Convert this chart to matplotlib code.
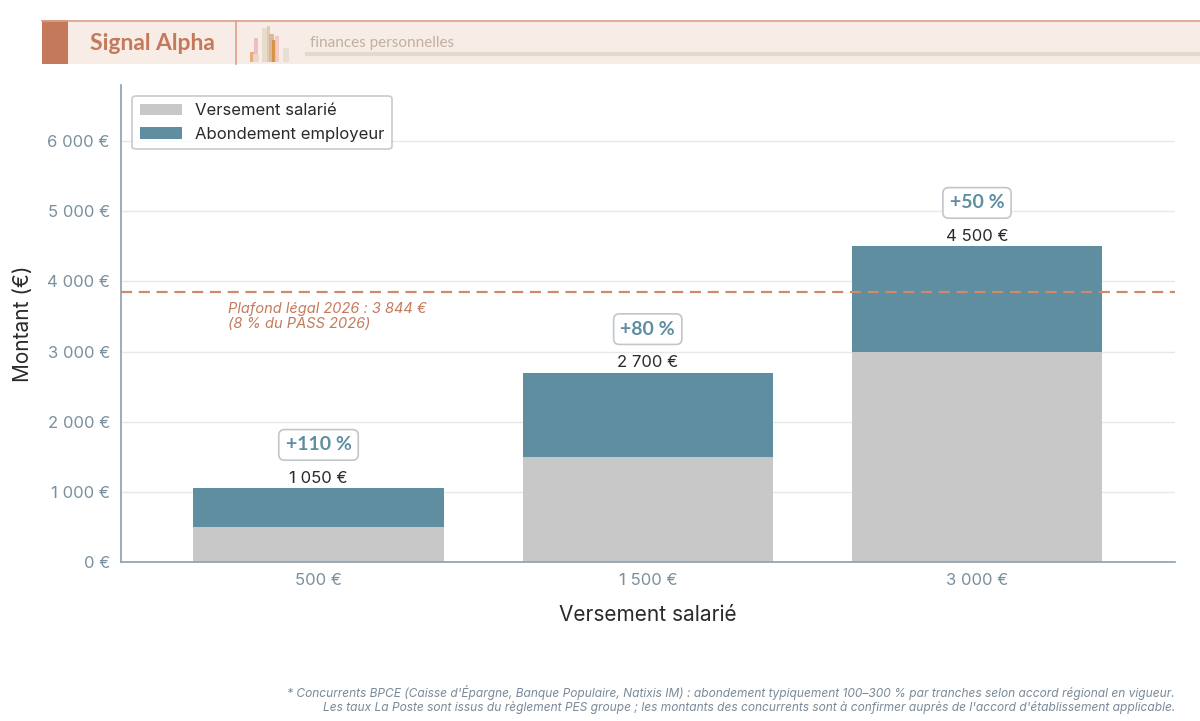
import matplotlib.pyplot as plt
import numpy as np
from matplotlib.patches import Rectangle

plt.rcParams['font.family'] = ['Inter', 'DejaVu Sans']

categories = ['500 €', '1 500 €', '3 000 €']
salarie = np.array([500, 1500, 3000])
abondement = np.array([550, 1200, 1500])
pct_labels = ['+110 %', '+80 %', '+50 %']
plafond = 3844

c_sal = '#c8c8c8'
c_abd = '#5e8ea0'
c_accent = '#c47a5a'
c_tick = '#7a909e'


def fmt(v):
    return '{:,.0f}'.format(v).replace(',', ' ') + ' €'


fig = plt.figure(figsize=(12, 7.21), dpi=100)
ax = fig.add_axes([0.1008, 0.2205, 0.878, 0.6615])

x = np.arange(len(categories))
w = 0.76
ax.bar(x, salarie, w, color=c_sal, label='Versement salarié', zorder=2)
ax.bar(x, abondement, w, bottom=salarie, color=c_abd, label='Abondement employeur', zorder=2)

tot = salarie + abondement
for i in range(len(x)):
    ax.text(x[i], tot[i] + 40, fmt(tot[i]), ha='center', va='bottom', fontsize=12, color='#2a2a2a')
    ax.text(x[i], tot[i] + 620, pct_labels[i], ha='center', va='center', fontsize=14,
            fontweight='bold', family=['Lato', 'DejaVu Sans'], color=c_abd,
            bbox=dict(boxstyle='round,pad=0.35,rounding_size=0.3', fc='white', ec='#c0c6cc', lw=1.2))

ax.axhline(plafond, color='#d08a6a', ls=(0, (5, 3)), lw=1.6, zorder=3)
ax.text(-0.276, plafond - 130, 'Plafond légal 2026 : 3 844 €\n(8 % du PASS 2026)', ha='left', va='top',
        fontsize=10.5, style='italic', color=c_accent, linespacing=1.1)

ax.set_xlim(-0.6, 2.6)
ax.set_ylim(0, 6800)
ax.set_yticks(np.arange(0, 7000, 1000))
ax.set_yticklabels([fmt(v) for v in np.arange(0, 7000, 1000)])
ax.set_xticks(x)
ax.set_xticklabels(categories)
ax.tick_params(colors=c_tick, labelsize=12, length=0, pad=8)
ax.yaxis.grid(True, color='#e8e8e8', lw=1, zorder=0)
for s in ['top', 'right']:
    ax.spines[s].set_visible(False)
for s in ['left', 'bottom']:
    ax.spines[s].set_color('#8aa0b0')
    ax.spines[s].set_linewidth(1.2)
ax.set_ylabel('Montant (€)', fontsize=15, color='#2a2a2a', labelpad=10)
ax.set_xlabel('Versement salarié', fontsize=15, color='#2a2a2a', labelpad=12)

leg = ax.legend(loc='upper left', fontsize=12, frameon=True, fancybox=True,
                edgecolor='#b8bec4', borderpad=0.45, handlelength=2.5, handletextpad=0.8,
                bbox_to_anchor=(0.003, 0.995))
leg.get_frame().set_linewidth(1.2)
for t in leg.get_texts():
    t.set_color('#2a2a2a')

# header band
H = 721.0


def fy(py):
    return 1 - py / H


fig.patches.append(Rectangle((42 / 1200, fy(64)), 1 - 42 / 1200, 44 / H, transform=fig.transFigure,
                             fc='#f7ece6', ec='none', zorder=0))
fig.patches.append(Rectangle((42 / 1200, fy(64)), 26 / 1200, 44 / H, transform=fig.transFigure,
                             fc=c_accent, ec='none', zorder=1))
fig.add_artist(plt.Line2D([42 / 1200, 1], [fy(21), fy(21)], color='#dda08a', lw=1.2, transform=fig.transFigure))
fig.add_artist(plt.Line2D([236 / 1200, 236 / 1200], [fy(21), fy(64)], color='#dda08a', lw=1.2,
                          transform=fig.transFigure))
fig.add_artist(plt.Line2D([307 / 1200, 1], [fy(54), fy(54)], color='#e6d8cc', lw=3,
                          transform=fig.transFigure))
fig.text(90 / 1200, fy(43), 'Signal Alpha', fontsize=16.5, fontweight='bold', color=c_accent,
         family=['Lato', 'DejaVu Sans'], va='center', ha='left')
fig.text(310 / 1200, fy(43), 'finances personnelles', fontsize=11, color='#c2b0a0',
         family=['Lato', 'DejaVu Sans'], va='center', ha='left')
icon = [(250, 52, 5, 10, '#e8a070'), (254, 38, 4, 24, '#ecb8b8'), (262, 28, 6, 34, '#e6d8c4'),
        (267, 26, 3, 36, '#dcc8b0'), (269, 34, 5, 28, '#d8b090'), (272, 40, 4, 22, '#d88a30'),
        (275, 36, 4, 26, '#f0c4c4'), (283, 48, 6, 14, '#e6ddd0'), (253, 54, 6, 8, '#e8ddd0')]
for px, py, pw, ph, col in icon:
    fig.patches.append(Rectangle((px / 1200, fy(py + ph)), pw / 1200, ph / H, transform=fig.transFigure,
                                 fc=col, ec='none', alpha=0.85, zorder=2))

fig.text(1175 / 1200, fy(693), "* Concurrents BPCE (Caisse d'Épargne, Banque Populaire, Natixis IM) : abondement "
         "typiquement 100–300 % par tranches selon accord régional en vigueur.", ha='right', va='center',
         fontsize=8.6, style='italic', color='#7a8a99')
fig.text(1175 / 1200, fy(708), "Les taux La Poste sont issus du règlement PES groupe ; les montants des concurrents "
         "sont à confirmer auprès de l'accord d'établissement applicable.", ha='right', va='center',
         fontsize=8.6, style='italic', color='#7a8a99')

fig.savefig('out.png', dpi=100)
